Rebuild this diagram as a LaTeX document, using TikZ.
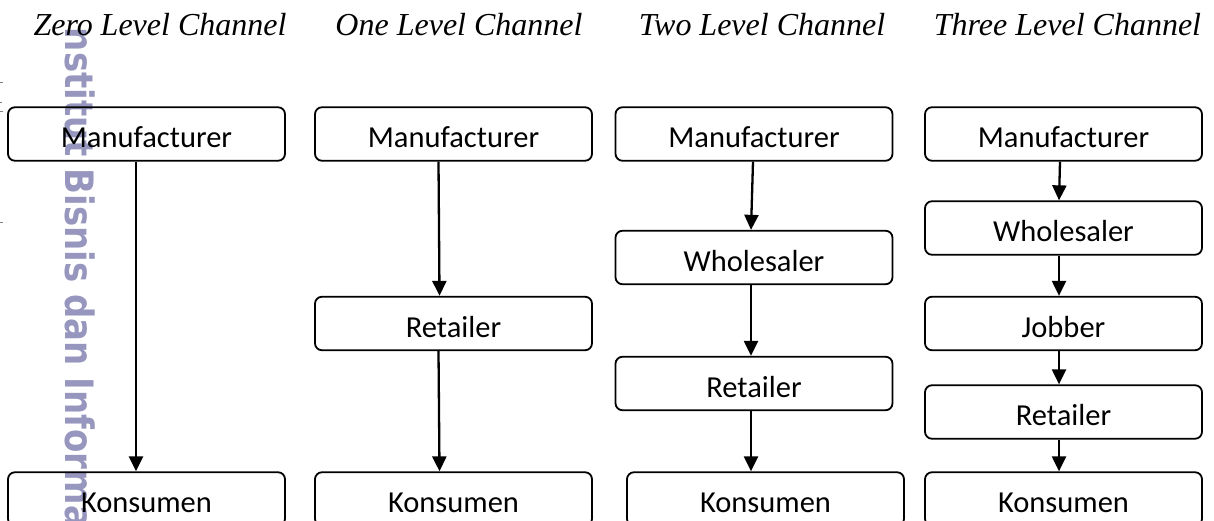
\documentclass[tikz,border=0pt]{standalone}
\usepackage{fontspec}
\setmainfont{Carlito}
\newfontfamily\titlefont{Liberation Serif}
\newfontfamily\wmfont{DejaVu Sans}
\usetikzlibrary{arrows.meta}
\definecolor{wm}{RGB}{150,150,190}
\begin{document}
\begin{tikzpicture}[x=1pt,y=-1pt,
  box/.style={draw, line width=1.8pt, rounded corners=7pt, minimum width=277pt,
    minimum height=53.5pt, inner sep=0pt, text height=27pt, text depth=0pt,
    font=\fontsize{30.5}{36}\selectfont},
  flow/.style={-{Triangle[length=15pt,width=14pt]}, line width=2.3pt},
  ttl/.style={anchor=base, inner sep=0pt, font=\titlefont\itshape\fontsize{32}{38}\selectfont},
  wmtext/.style={rotate=-90, anchor=base west, inner sep=0pt, text=wm,
    font=\wmfont\bfseries\fontsize{34}{40}\selectfont},
  stray/.style={draw=gray, line width=1pt}]
\useasboundingbox (0,0) rectangle (1214,521);
\clip (0,0) rectangle (1214,521);
\fill[white] (0,0) rectangle (1214,521);
% watermark
\begin{scope}
  \clip (0,27) rectangle (300,521);
  \node[wmtext, yscale=1.15] (wmk) at (65,15) {Institut Bisnis dan Informatika Kwik Kian Gie};
\end{scope}
% stray marks at the left edge
\draw[stray] (0,83) -- (3,83);
\draw[stray] (0,103) -- (2,103);
\draw[stray] (0,112) -- (3,112);
\draw[stray] (0,223) -- (3,223);
% titles
\node[ttl] (t1) at (160,36) {Zero Level Channel};
\node[ttl] (t2) at (459,36) {One Level Channel};
\node[ttl] (t3) at (762,36) {Two Level Channel};
\node[ttl] (t4) at (1067.5,36) {Three Level Channel};
% column 1
\node[box] (m1) at (146.5,134) {Manufacturer};
\node[box] (k1) at (146.5,499) {Konsumen};
% column 2
\node[box] (m2) at (453.5,134) {Manufacturer};
\node[box] (r2) at (453.5,323.5) {Retailer};
\node[box] (k2) at (453.5,499) {Konsumen};
% column 3
\node[box] (m3) at (754,134) {Manufacturer};
\node[box] (w3) at (754,257.5) {Wholesaler};
\node[box] (r3) at (754,383.5) {Retailer};
\node[box] (k3) at (765.5,499) {Konsumen};
% column 4
\node[box] (m4) at (1063.5,134) {Manufacturer};
\node[box] (w4) at (1063.5,228) {Wholesaler};
\node[box] (j4) at (1063.5,323.5) {Jobber};
\node[box] (r4) at (1063.5,412) {Retailer};
\node[box] (k4) at (1063.5,499) {Konsumen};
% connectors
\draw[flow] ([xshift=-10.5pt]m1.south) -- ([xshift=-10.5pt]k1.north);
\draw[flow] ([xshift=-15pt]m2.south) -- ([xshift=-14pt]r2.north);
\draw[flow] ([xshift=-15pt]r2.south) -- ([xshift=-14pt]k2.north);
\draw[flow] ([xshift=-1pt]m3.south) -- ([xshift=-3pt]w3.north);
\draw[flow] ([xshift=-3pt]w3.south) -- ([xshift=-3pt]r3.north);
\draw[flow] ([xshift=-3pt]r3.south) -- ([xshift=-14.5pt]k3.north);
\draw[flow] ([xshift=-3.5pt]m4.south) -- ([xshift=-4.5pt]w4.north);
\draw[flow] ([xshift=-4.5pt]w4.south) -- ([xshift=-4.5pt]j4.north);
\draw[flow] ([xshift=-4.5pt]j4.south) -- ([xshift=-4.5pt]r4.north);
\draw[flow] ([xshift=-4.5pt]r4.south) -- ([xshift=-4.5pt]k4.north);
\end{tikzpicture}
\end{document}
